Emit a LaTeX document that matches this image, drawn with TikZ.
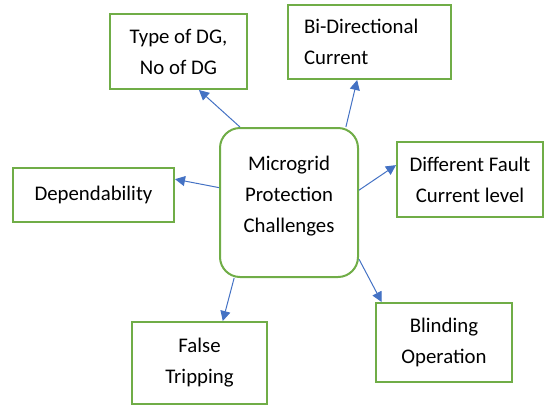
\documentclass[tikz,border=0pt]{standalone}
\usepackage{fontspec}
\setmainfont{Carlito}
\usetikzlibrary{arrows.meta,positioning}
\definecolor{boxgreen}{HTML}{70AD47}
\definecolor{linkblue}{HTML}{4472C4}

\begin{document}
\begin{tikzpicture}[x=1pt,y=-1pt,>={Triangle[length=10pt,width=10pt]},align=center,
		every node/.style={font=\fontsize{20.8}{31}\selectfont},
		box/.style={draw=boxgreen,line width=2pt,inner sep=0pt},
		hub/.style={box,rounded corners=20pt},
		link/.style={->,linkblue,line width=1pt}]
		\useasboundingbox (0,0) rectangle (546,405);
		\node[hub,minimum width=138pt,minimum height=149pt,text depth=16pt] (ctr) at (289,202.5) {Microgrid\\Protection\\Challenges};
		\node[box,minimum width=137pt,minimum height=75pt] (typ) at (178.5,51.5) {Type of DG,\\No of DG};
		\node[box,minimum width=163pt,minimum height=74pt,text width=131pt,align=left] (bid) at (369.5,42) {Bi-Directional\\Current};
		\node[box,minimum width=146pt,minimum height=75pt] (dif) at (470,179.5) {Different Fault\\Current level};
		\node[box,minimum width=161pt,minimum height=54pt] (dep) at (93.5,195) {Dependability};
		\node[box,minimum width=135pt,minimum height=82pt] (fls) at (199.5,363) {False\\Tripping};
		\node[box,minimum width=136pt,minimum height=79pt] (bld) at (444,342.5) {Blinding\\Operation};
		\path[link]
			(ctr.123) edge (typ.298)
			(ctr.53) edge (bid.252)
			(ctr.10) edge (dif.169)
			(ctr.168) edge (dep.11)
			(ctr.234) edge (fls.61)
			(ctr.321) edge (bld.147);
	\end{tikzpicture}
\end{document}
